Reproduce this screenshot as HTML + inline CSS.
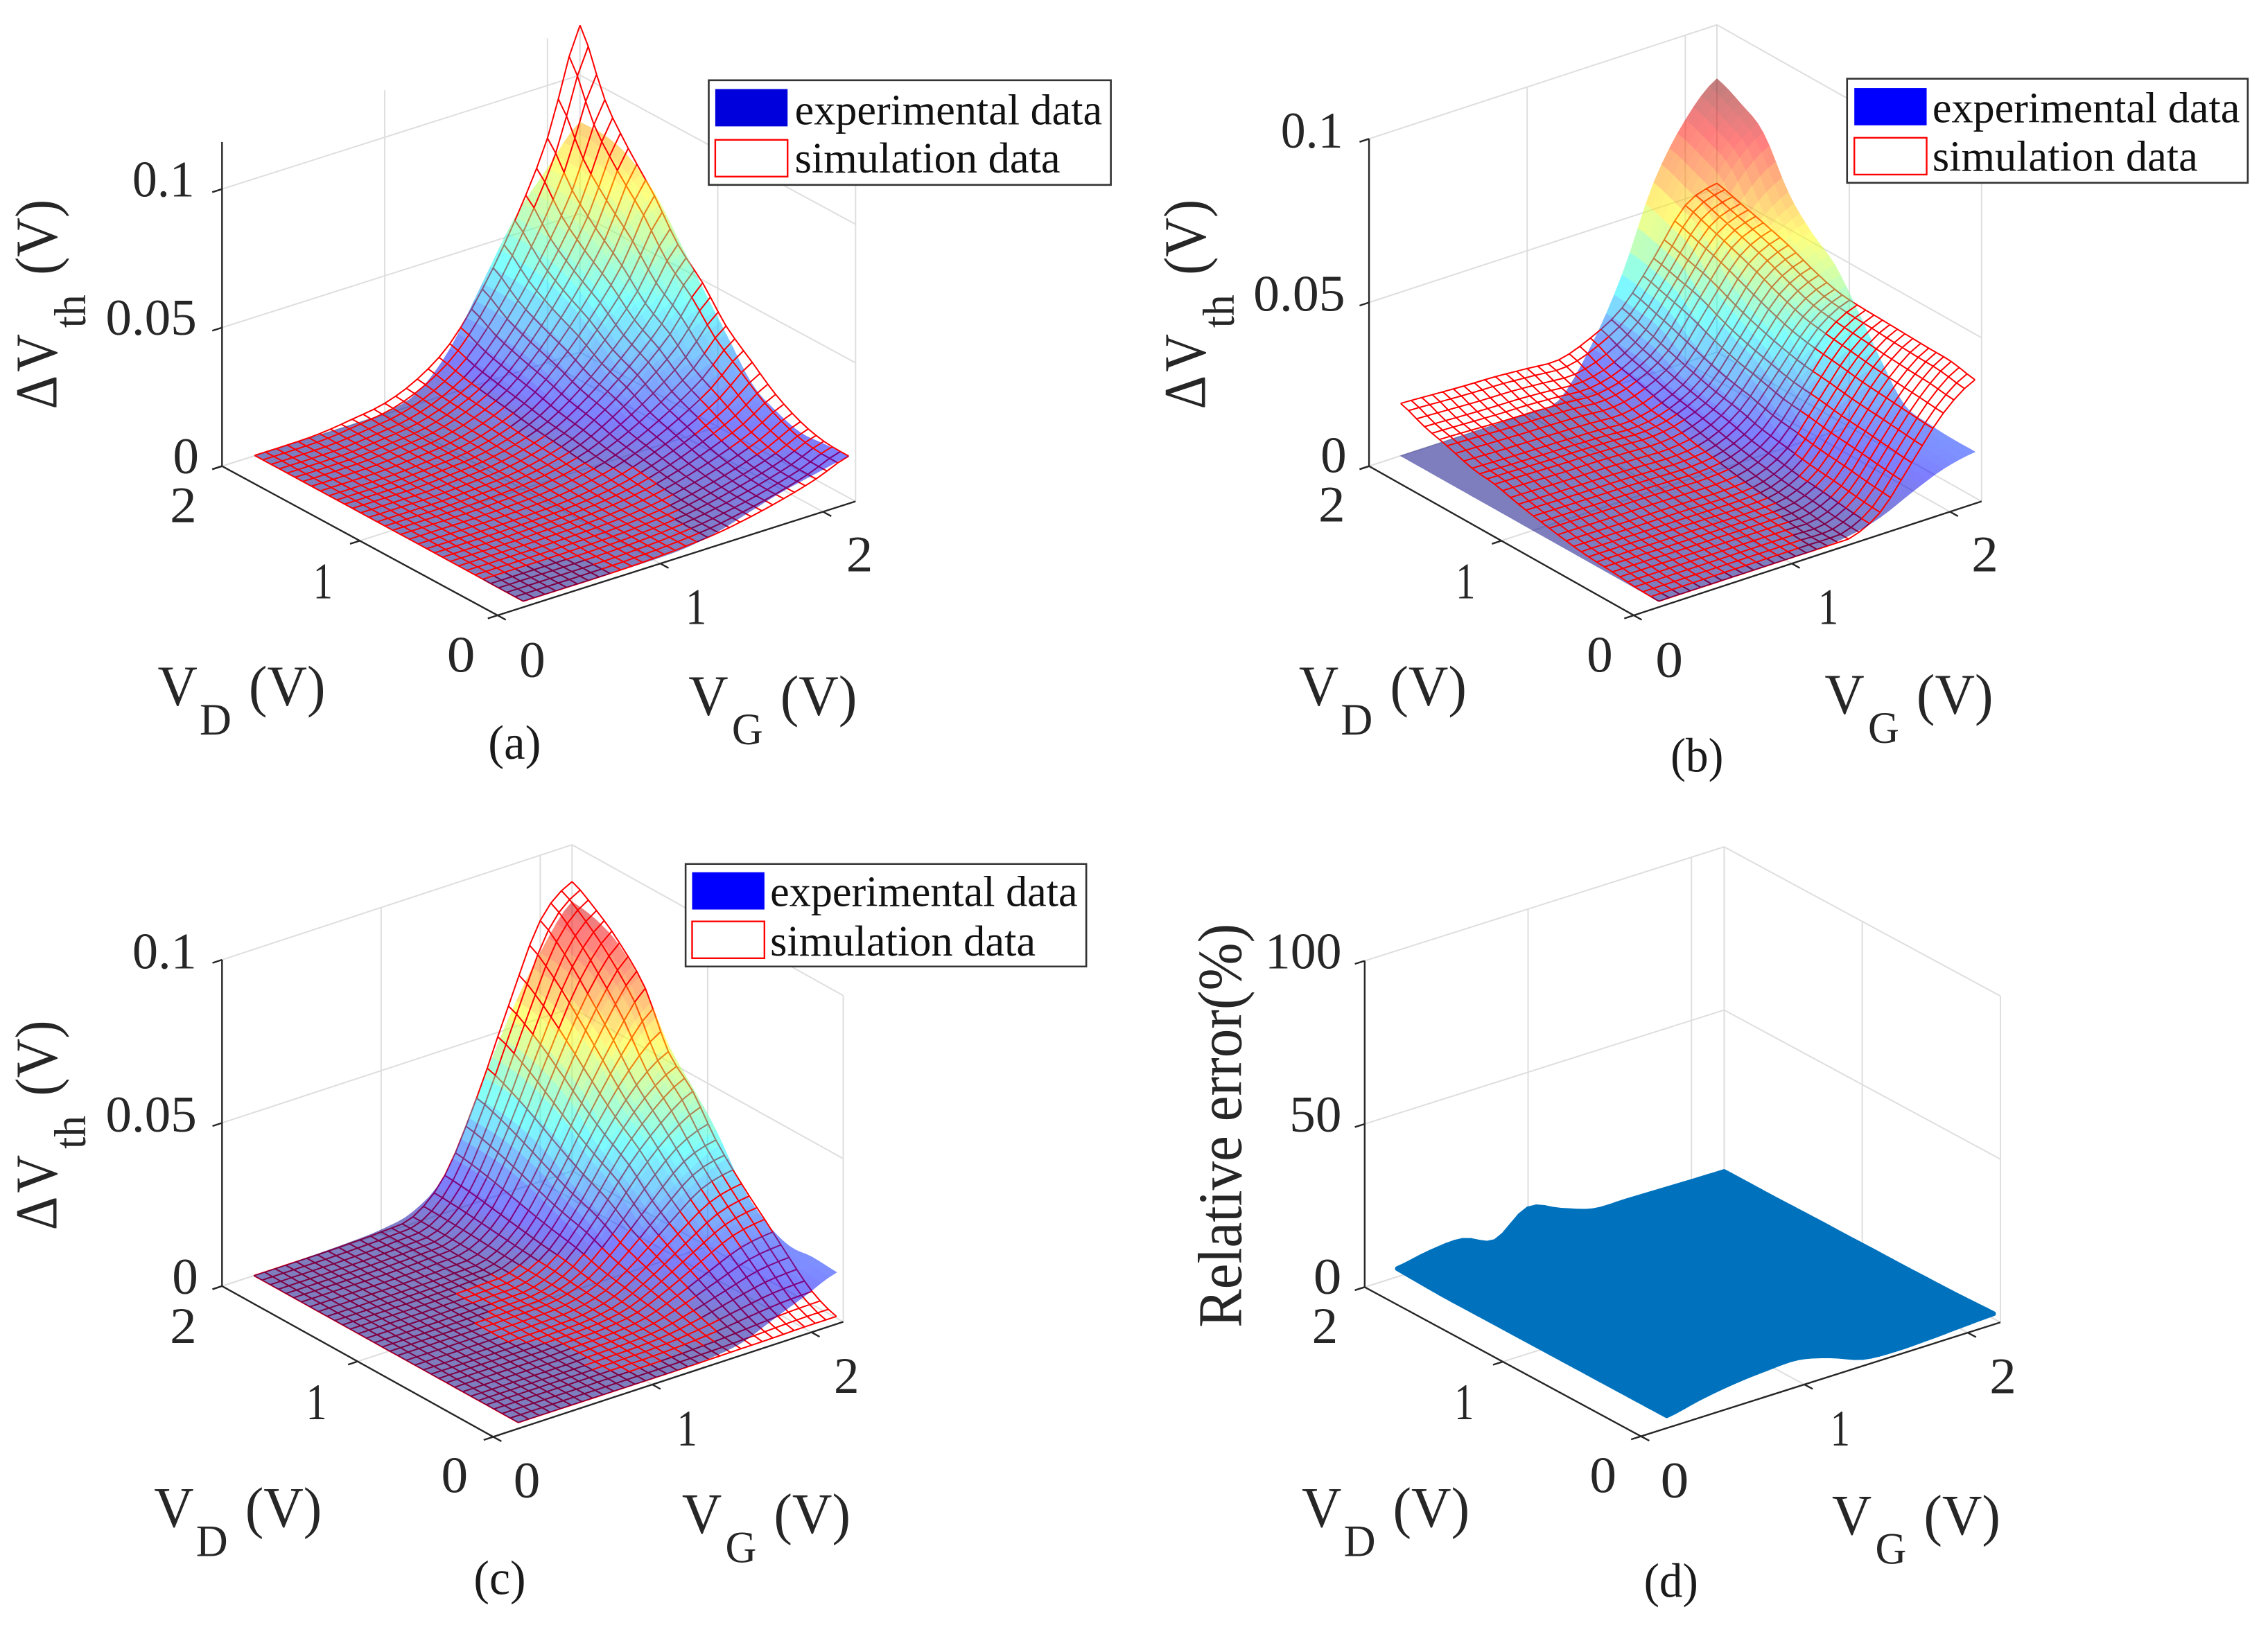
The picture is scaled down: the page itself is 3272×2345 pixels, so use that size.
<!DOCTYPE html>
<html lang="en">
<head>
<meta charset="utf-8">
<title>Threshold voltage shift: experimental vs simulation surfaces</title>
<style>
html,body{margin:0;padding:0;background:#fff;}
svg{display:block;}
text{font-family:"Liberation Serif","Times New Roman",serif;}
path,rect,polygon{vector-effect:non-scaling-stroke;}
</style>
</head>
<body>
<svg id="figure" xmlns="http://www.w3.org/2000/svg" width="3272" height="2345" viewBox="0 0 3272 2345"></svg>
<script>
/* ---------- shared axis data ---------- */
const vgKnots = [0.2,0.4,0.6,0.8,1.0,1.2,1.4,1.6,1.8,2.0,2.2];
const vdKnots = [0.05,0.23,0.4,0.58,0.75,0.94,1.11,1.29,1.46,1.65,1.82,2.0];
const vgTicks = [0,1,2];
const vdTicks = [0,1,2];
const tickLabels = ['0','1','2'];
const zTicksVolt = [0,50,100];
const zLabelsVolt = ['0','0.05','0.1'];
const zTicksError = [0,50,100];
const zLabelsError = ['0','50','100'];
const legendLabels = ['experimental data','simulation data'];

/* ---------- surface values: rows = VD knots, columns = VG knots ---------- */
/* panels a-c in millivolts, panel d in percent */
const panelAExp = [
[0,0,0,0,.1,.7,2.9,6.5,10,12.6,15],
[0,0,0,0,.1,.7,2.8,6.2,9.7,12.2,14.5],
[0,0,0,0,.1,.7,2.7,6,9.4,11.8,14],
[0,0,0,0,.1,.8,3.2,7.3,11.4,14.3,17],
[0,0,0,0,.1,1.1,4.2,9.5,14.7,18.5,22],
[0,0,0,0,.2,1.7,6.7,15,23.5,29.4,35],
[0,0,0,0,.3,2.3,8.9,20.2,31.5,39.5,47],
[0,0,0,0,.4,2.9,11.4,25.8,40.2,50.4,60],
[0,0,0,0,.4,3.5,13.7,31,48.2,60.5,72],
[0,0,0,0,.5,3.8,15.2,34.4,53.6,67.2,80],
[0,0,0,0,.5,4,15.8,35.7,55.6,69.7,83],
[0,0,0,0,.5,4,16,36,56,70,83]];
const panelASim = [
[0,0,0,.1,.5,1.2,2.3,4.4,7.1,10.5,15],
[0,0,0,.1,.5,1.2,2.4,4.5,7.3,10.8,15.5],
[.1,.1,.1,.3,.6,1.4,2.8,5.3,8.5,12.6,18],
[.1,.1,.1,.4,.8,1.8,3.6,6.7,10.9,16,23],
[.15,.15,.2,.5,1,2.3,4.7,8.8,14.2,20.9,30],
[.15,.15,.2,.6,1.3,3,5.9,11.1,18,26.5,38],
[.15,.15,.2,.8,1.7,3.8,7.6,14.4,23.2,34.2,49],
[.15,.15,.2,1,2,4.5,9,17,27.5,40.5,58],
[.15,.15,.3,1.2,2.4,5.5,11,20.8,33.7,49.6,71],
[.15,.15,.4,1.4,2.8,6.5,12.9,24.3,39.3,57.9,83],
[.15,.15,.4,1.6,3.3,7.5,14.9,28.1,45.5,67,96],
[.15,.15,.5,2,4,9,18,34,55,81,118]];
const panelBExp = [
[0,0,0,0,0,.1,1,3.5,8,12,14],
[0,0,0,0,0,.2,2,4.5,9,12.5,14],
[0,0,0,0,0,.2,2.5,5.8,10,12.9,14.5],
[0,0,0,0,0,.2,2.7,6.4,11,14.2,16],
[0,0,0,0,0,.3,4.3,10,17.3,22.3,25],
[0,0,0,0,0,.4,6.3,14.8,25.5,32.9,37],
[0,0,0,0,0,.6,8,18.8,32.4,41.8,47],
[0,0,0,0,0,.6,9,21.2,36.6,47.2,53],
[0,0,0,0,0,.7,10.4,24.4,42.1,54.3,61],
[0,0,0,0,0,.9,12.8,30,51.8,66.8,75],
[0,0,0,0,0,1,13.6,32,55.2,71.2,80],
[0,0,0,0,0,1,14,33,58,74,83.5]];
const panelBSim = [
[0,0,0,0,0,0,0,5,17,29,36],
[.3,.3,.3,.3,.3,.3,.5,5.7,17.8,29.7,37.5],
[1,1,.9,.9,.9,.9,1.5,6.7,18.6,30.3,37.7],
[1.5,1.5,1.4,1.4,1.3,1.3,2.2,7.5,19.3,31,38],
[2.5,2.4,2.3,2.3,2.2,2.1,3.3,8.7,20.4,32,38.3],
[4,3.9,3.8,3.7,3.5,3.4,4.8,10,21.3,33,38.6],
[5.5,5.3,5.2,5.1,4.8,4.6,6.3,12,23,34.3,39.5],
[7.5,7.3,7,6.9,6.6,6.3,8.2,13.5,25,37,42],
[8.5,8.2,8,7.8,7.5,7.1,9.5,15.5,27.5,40,45],
[11,10.7,10.3,10.1,9.7,9.2,11.8,18,31,43,47.5],
[13,12.6,12.2,12,11.4,10.9,13.7,20.5,33,45.5,49.5],
[16,15.5,15,14.7,14,13.5,17,23,35,48,51.6]];
const panelCExp = [
[0,0,0,0,0,.1,.5,2,6,10,14],
[0,0,0,0,0,.1,.5,1.2,5,11.5,14.5],
[0,0,0,0,.2,.4,1.2,3.5,9,11.9,14],
[0,0,0,0,.2,.5,2,6,11,15.5,17.5],
[0,0,0,0,.2,.6,3,8.5,15.5,22,24.5],
[0,0,0,0,.2,.8,4.1,11.8,23.7,31.5,37],
[0,0,.1,.1,.2,.8,5.6,18,29.4,39,46],
[0,0,.1,.1,.3,1,7.7,21.5,35,46.8,55],
[0,0,.1,.4,1,2.9,9.5,26.5,43.5,57.8,68],
[0,0,.2,.5,1.2,3.2,10.8,30,49,65.5,77],
[0,0,.2,.5,1.2,3.4,11.3,31.6,52,69,81],
[0,0,.2,.5,1.2,3.5,11.5,32,53,70,82.5]];
const panelCSim = [
[0,0,0,0,0,0,.1,.2,.3,.5,.5],
[0,0,0,0,.1,.2,.6,1.4,2.6,3.6,4],
[0,0,0,0,.3,.5,1.4,3.8,6.7,9.5,10.5],
[0,0,0,0,.3,.7,2.3,6.5,11.5,16.2,18],
[0,0,0,.1,.3,.8,3.3,9,16,22.5,25],
[0,0,0,.1,.3,1,4.4,12.2,21.8,30.6,34],
[0,0,0,.1,.3,1,5.9,16.2,28.8,38.5,45],
[0,0,0,.1,.4,1.2,6.9,19,34,46,53],
[0,0,0,.1,.4,1.4,8.1,22.3,39.7,55.8,68.5],
[0,0,0,.1,.5,1.7,9.5,26.3,46.7,65.7,78],
[0,0,0,.2,.6,1.9,10.7,29.5,52.5,73.8,84],
[0,0,0,.2,.6,2,11.5,32,57,80,88.7]];
const panelDError = [
[2,4.2,5.8,6.7,7,4.5,.8,.1,.4,1,1.5],
[2,3,3.8,4,4,2.5,1,.5,.5,.8,1.2],
[2,2,2,2,2,1.5,1,.8,.6,.8,1],
[2,1.6,1.5,1.5,1.5,1.2,1,.8,.7,.7,.9],
[2,1.5,1.5,1.4,1.4,1.1,1,.8,.7,.7,.8],
[2,1.5,1.4,1.4,1.4,1,1,.8,.7,.7,.8],
[2,1.5,1.4,1.4,1.4,1,1,.8,.7,.7,.7],
[2,1.5,1.5,1.4,1.5,1.1,1,.8,.7,.6,.7],
[2,1.6,1.6,1.4,1.6,1.2,1,.8,.7,.6,.6],
[2,2,2,1.5,2,1.5,1,.8,.6,.5,.5],
[2.2,3,3,1.3,2.5,2,1,.8,.6,.5,.5],
[2.5,4.3,4.8,1.3,8.1,4.5,1.2,1,.8,.6,.5]];

/* ---------- helpers ---------- */
const NS = 'http://www.w3.org/2000/svg';
const root = document.getElementById('figure');
const GMAX = 2.2, DMAX = 2, SCALE_X = 1636 / 1568, SCALE_Y = 1172 / 1568;

function mk(tag, parent, name) {
  const el = document.createElementNS(NS, tag);
  
  
  parent.appendChild(el);
  return el;
}
function addText(parent, str, x0, x1, base, size, name, fill) {
  const t = mk('text', parent, name);
  t.setAttribute('x', x0);
  t.setAttribute('y', base);
  t.setAttribute('font-size', size);
  t.setAttribute('fill', fill || '#262626');
  t.setAttribute('textLength', x1 - x0);
  t.setAttribute('lengthAdjust', 'spacingAndGlyphs');
  t.textContent = str;
  return t;
}
function addUpText(parent, str, yBottom, yTop, xBase, size, name) {
  const t = mk('text', parent, name);
  t.setAttribute('transform', 'translate(' + xBase + ',' + yBottom + ') rotate(-90)');
  t.setAttribute('font-size', size);
  t.setAttribute('fill', '#262626');
  t.setAttribute('textLength', yBottom - yTop);
  t.setAttribute('lengthAdjust', 'spacingAndGlyphs');
  t.textContent = str;
  return t;
}
function clamp01(x) { return Math.max(0, Math.min(1, x)); }
function jet(t) {
  const r = clamp01(1.5 - Math.abs(4 * t - 3));
  const g = clamp01(1.5 - Math.abs(4 * t - 2));
  const b = clamp01(1.5 - Math.abs(4 * t - 1));
  return 'rgb(' + Math.round(r * 255) + ',' + Math.round(g * 255) + ',' + Math.round(b * 255) + ')';
}
function cr(p0, p1, p2, p3, t) {
  return 0.5 * (2 * p1 + (p2 - p0) * t + (2 * p0 - 5 * p1 + 4 * p2 - p3) * t * t + (3 * p1 - p0 - 3 * p2 + p3) * t * t * t);
}
/* smooth surface rendering between the read values (u = column index, v = row index) */
function surfaceAt(Z, u, v) {
  const nc = Z[0].length, nr = Z.length;
  const iu = Math.min(Math.floor(u), nc - 2), iv = Math.min(Math.floor(v), nr - 2);
  const tu = u - iu, tv = v - iv, rows = [];
  for (let k = -1; k <= 2; k++) {
    const r = Z[Math.max(0, Math.min(nr - 1, iv + k))];
    const c = [-1, 0, 1, 2].map(function (m) { return r[Math.max(0, Math.min(nc - 1, iu + m))]; });
    rows.push(cr(c[0], c[1], c[2], c[3], tu));
  }
  return Math.max(0, cr(rows[0], rows[1], rows[2], rows[3], tv));
}
function knotValue(K, idx) {
  const i = Math.min(Math.floor(idx), K.length - 2);
  return K[i] + (K[i + 1] - K[i]) * (idx - i);
}
function makeProjector(p) {
  return function (vg, vd, z) {
    return [
      p.O[0] + vg / GMAX * (p.R[0] - p.O[0]) + vd / DMAX * (p.L[0] - p.O[0]),
      p.O[1] + vg / GMAX * (p.R[1] - p.O[1]) + vd / DMAX * (p.L[1] - p.O[1]) - z * p.zPx
    ];
  };
}
function fmt(pt) { return pt[0].toFixed(1) + ' ' + pt[1].toFixed(1); }
function segPath(parent, pts, name, stroke, width) {
  const el = mk('path', parent, name);
  el.setAttribute('d', 'M' + pts.map(fmt).join('L'));
  el.setAttribute('fill', 'none');
  el.setAttribute('stroke', stroke);
  el.setAttribute('stroke-width', width);
  return el;
}

/* ---------- drawing ---------- */
function drawGrid(g, p, proj) {
  const GC = '#dedede', W = 2;
  p.zTicks.forEach(function (z) {
    segPath(g, [proj(0, DMAX, z), proj(GMAX, DMAX, z), proj(GMAX, 0, z)], 'z-gridline', GC, W);
  });
  vgTicks.forEach(function (v) {
    if (v === 0) return;
    segPath(g, [proj(v, DMAX, 0), proj(v, DMAX, p.zTop)], 'vg-wall-gridline', GC, W);
    segPath(g, [proj(v, 0, 0), proj(v, DMAX, 0)], 'vg-floor-gridline', GC, W);
  });
  vdTicks.forEach(function (v) {
    if (v === 0) return;
    segPath(g, [proj(GMAX, v, 0), proj(GMAX, v, p.zTop)], 'vd-wall-gridline', GC, W);
    segPath(g, [proj(0, v, 0), proj(GMAX, v, 0)], 'vd-floor-gridline', GC, W);
  });
  segPath(g, [proj(GMAX, 0, 0), proj(GMAX, 0, p.zTop)], 'right-corner-gridline', GC, W);
}
function drawAxes(g, p, proj) {
  const C = '#262626', W = 2.4;
  segPath(g, [proj(0, DMAX, 0), proj(0, DMAX, p.zTop)], 'z-axis-line', C, W);
  segPath(g, [proj(0, DMAX, 0), proj(0, 0, 0)], 'vd-axis-line', C, W);
  segPath(g, [proj(0, 0, 0), proj(GMAX, 0, 0)], 'vg-axis-line', C, W);
  p.zTicks.forEach(function (z) {
    segPath(g, [proj(0, DMAX, z), proj(-0.06, DMAX, z)], 'z-axis-tick', C, W);
  });
  vdTicks.forEach(function (v) {
    segPath(g, [proj(0, v, 0), proj(-0.06, v, 0)], 'vd-axis-tick', C, W);
  });
  vgTicks.forEach(function (v) {
    segPath(g, [proj(v, 0, 0), proj(v, -0.06, 0)], 'vg-axis-tick', C, W);
  });
}
function drawFilledSurface(g, p, proj, Z, colorFn, strokeW) {
  const sub = 4;
  const nu = (vgKnots.length - 1) * sub, nv = (vdKnots.length - 1) * sub;
  function pt(iu, iv) {
    const u = iu / sub, v = iv / sub;
    const z = surfaceAt(Z, u, v);
    return { xy: proj(knotValue(vgKnots, u), knotValue(vdKnots, v), z), z: z };
  }
  for (let iv = nv - 1; iv >= 0; iv--) {
    for (let iu = nu - 1; iu >= 0; iu--) {
      const a = pt(iu, iv), b = pt(iu + 1, iv), c = pt(iu + 1, iv + 1), d = pt(iu, iv + 1);
      const col = colorFn((a.z + b.z + c.z + d.z) / 4);
      const el = document.createElementNS(NS, 'polygon');
      
      
      el.setAttribute('points', [a, b, c, d].map(function (q) { return q.xy[0].toFixed(1) + ',' + q.xy[1].toFixed(1); }).join(' '));
      el.setAttribute('fill', col);
      el.setAttribute('stroke', col);
      el.setAttribute('stroke-width', strokeW);
      el.setAttribute('stroke-linejoin', 'round');
      g.appendChild(el);
    }
  }
}
function drawMesh(under, over, p, proj, Sim, Exp) {
  const sub = 3;
  const nu = (vgKnots.length - 1) * sub, nv = (vdKnots.length - 1) * sub;
  let dUnder = '', dOver = '';
  function node(iu, iv) {
    const u = iu / sub, v = iv / sub;
    return proj(knotValue(vgKnots, u), knotValue(vdKnots, v), surfaceAt(Sim, u, v));
  }
  function seg(iu0, iv0, iu1, iv1) {
    const um = (iu0 + iu1) / 2 / sub, vm = (iv0 + iv1) / 2 / sub;
    const s = 'M' + fmt(node(iu0, iv0)) + 'L' + fmt(node(iu1, iv1));
    if (surfaceAt(Sim, um, vm) <= surfaceAt(Exp, um, vm) + 0.05) dUnder += s; else dOver += s;
  }
  for (let iv = 0; iv <= nv; iv++) for (let iu = 0; iu < nu; iu++) seg(iu, iv, iu + 1, iv);
  for (let iu = 0; iu <= nu; iu++) for (let iv = 0; iv < nv; iv++) seg(iu, iv, iu, iv + 1);
  [[under, dUnder, 'simulation-mesh-below-surface'], [over, dOver, 'simulation-mesh-above-surface']].forEach(function (it) {
    const el = mk('path', it[0], it[2]);
    el.setAttribute('d', it[1]);
    el.setAttribute('fill', 'none');
    el.setAttribute('stroke', '#ff0000');
    el.setAttribute('stroke-width', 2);
  });
}
function drawLegend(g, box) {
  const lg = mk('g', g, 'legend');
  const frame = mk('rect', lg, 'legend-box');
  frame.setAttribute('x', box.x0);
  frame.setAttribute('y', box.y0);
  frame.setAttribute('width', box.x1 - box.x0);
  frame.setAttribute('height', box.y1 - box.y0);
  frame.setAttribute('fill', '#fff');
  frame.setAttribute('stroke', '#333333');
  frame.setAttribute('stroke-width', 2.6);
  const s1 = mk('rect', lg, 'legend-swatch-experimental');
  s1.setAttribute('x', box.sx);
  s1.setAttribute('y', box.s1);
  s1.setAttribute('width', 100);
  s1.setAttribute('height', 72);
  s1.setAttribute('fill', box.color);
  const s2 = mk('rect', lg, 'legend-swatch-simulation');
  s2.setAttribute('x', box.sx);
  s2.setAttribute('y', box.s2);
  s2.setAttribute('width', 100);
  s2.setAttribute('height', 71);
  s2.setAttribute('fill', '#fff');
  s2.setAttribute('stroke', '#ff0000');
  s2.setAttribute('stroke-width', 2.4);
  addText(lg, legendLabels[0], box.tx, box.tx + 425, box.b1, 84, 'legend-label-experimental', '#111111');
  addText(lg, legendLabels[1], box.tx, box.tx + 367, box.b2, 84, 'legend-label-simulation', '#111111');
}
function drawLabels(g, p) {
  p.zBoxes.forEach(function (b, i) {
    addText(g, p.zLabels[i], b[0] - 2, b[1] + 2, b[2], 99, 'z-tick-label');
  });
  p.vdBoxes.forEach(function (b, i) {
    addText(g, tickLabels[i], b[0] - 2, b[1] + 2, b[2], 99, 'vd-tick-label');
  });
  p.vgBoxes.forEach(function (b, i) {
    addText(g, tickLabels[i], b[0] - 2, b[1] + 2, b[2], 99, 'vg-tick-label');
  });
  const vd = p.vdTitle, vg = p.vgTitle;
  addText(g, 'V', vd[0], vd[0] + 55, vd[1], 111, 'vd-axis-title-v');
  addText(g, 'D', vd[0] + 58, vd[0] + 102, vd[1] + 56, 87, 'vd-axis-title-subscript');
  addText(g, '(V)', vd[0] + 126, vd[0] + 232, vd[1], 111, 'vd-axis-title-unit');
  addText(g, 'V', vg[0], vg[0] + 55, vg[1], 111, 'vg-axis-title-v');
  addText(g, 'G', vg[0] + 60, vg[0] + 103, vg[1] + 56, 87, 'vg-axis-title-subscript');
  addText(g, '(V)', vg[0] + 127, vg[0] + 233, vg[1], 111, 'vg-axis-title-unit');
  if (p.yTitle) {
    const y = p.yTitle;
    addUpText(g, '\u0394', 790 + y.dy, 725 + y.dy, y.base, 82, 'z-axis-title-delta');
    addUpText(g, 'V', 718 + y.dy, 645 + y.dy, y.base, 82, 'z-axis-title-v');
    addUpText(g, 'th', 633 + y.dy, 569 + y.dy, y.base + 40, 62, 'z-axis-title-subscript');
    addUpText(g, '(V)', 531 + y.dy, 385 + y.dy, y.base, 82, 'z-axis-title-unit');
  } else {
    addUpText(g, 'Relative error(%)', 995, 215, 148, 86, 'z-axis-title');
  }
  addText(g, p.caption[0], p.caption[1], p.caption[2], p.caption[3], 94, 'panel-caption', '#1a1a1a');
}

const panels = [
  { key: 'a', ox: 0, oy: 0, O: [688, 1188], L: [307, 900], R: [1183, 968], zPx: 5.35, zTop: 117, clim: 116,
    zTicks: zTicksVolt, zLabels: zLabelsVolt, exp: panelAExp, sim: panelASim,
    zBoxes: [[241, 273, 914], [148, 270, 646], [185, 267, 379]],
    vdBoxes: [[620, 655, 1297], [435, 458, 1155], [237, 270, 1008]],
    vgBoxes: [[720, 752, 1307], [950, 975, 1205], [1172, 1205, 1103]],
    vdTitle: [218, 1362], vgTitle: [952, 1381], yTitle: { base: 78, dy: 0 }, caption: ['(a)', 675, 748, 1465],
    legend: { x0: 980, y0: 155, x1: 1536, y1: 357, sx: 989, s1: 172, s2: 270, tx: 1099, b1: 240, b2: 333, color: '#0000dc' } },
  { key: 'b', ox: 1636, oy: 0, O: [691, 1188], L: [325, 900], R: [1172, 968], zPx: 6.32, zTop: 100, clim: 83.5,
    zTicks: zTicksVolt, zLabels: zLabelsVolt, exp: panelBExp, sim: panelBSim,
    zBoxes: [[260, 292, 912], [167, 290, 600], [205, 287, 285]],
    vdBoxes: [[628, 660, 1297], [447, 470, 1155], [257, 290, 1007]],
    vgBoxes: [[723, 757, 1307], [948, 972, 1205], [1160, 1193, 1103]],
    vdTitle: [228, 1362], vgTitle: [955, 1378], yTitle: { base: 98, dy: 0 }, caption: ['(b)', 742, 815, 1490],
    legend: { x0: 986, y0: 152, x1: 1540, y1: 353, sx: 996, s1: 170, s2: 266, tx: 1104, b1: 236, b2: 330, color: '#0000ff' } },
  { key: 'c', ox: 0, oy: 1172, O: [682, 1206], L: [307, 915], R: [1166, 984], zPx: 6.3, zTop: 100, clim: 88.7,
    zTicks: zTicksVolt, zLabels: zLabelsVolt, exp: panelCExp, sim: panelCSim,
    zBoxes: [[240, 272, 930], [148, 270, 617], [185, 270, 302]],
    vdBoxes: [[612, 645, 1313], [425, 450, 1172], [237, 270, 1025]],
    vgBoxes: [[712, 745, 1323], [938, 962, 1223], [1155, 1186, 1121]],
    vdTitle: [213, 1380], vgTitle: [943, 1392], yTitle: { base: 78, dy: 17 }, caption: ['(c)', 655, 727, 1510],
    legend: { x0: 948, y0: 100, x1: 1502, y1: 298, sx: 957, s1: 116, s2: 211, tx: 1065, b1: 181, b2: 277, color: '#0000ff' } },
  { key: 'd', ox: 1636, oy: 1172, O: [701, 1205], L: [319, 917], R: [1198, 985], zPx: 6.3, zTop: 100, clim: 100,
    zTicks: zTicksError, zLabels: zLabelsError, err: panelDError,
    zBoxes: [[250, 285, 930], [217, 285, 617], [183, 285, 302]],
    vdBoxes: [[632, 665, 1313], [445, 468, 1172], [248, 280, 1025]],
    vgBoxes: [[730, 765, 1323], [965, 988, 1223], [1185, 1218, 1122]],
    vdTitle: [232, 1380], vgTitle: [965, 1395], yTitle: null, caption: ['(d)', 705, 780, 1515],
    legend: null }
];

panels.forEach(function (p) {
  const g = mk('g', root, 'panel-' + p.key);
  g.setAttribute('transform', 'translate(' + p.ox + ',' + p.oy + ') scale(' + SCALE_X + ',' + SCALE_Y + ')');
  const proj = makeProjector(p);
  drawGrid(mk('g', g, 'gridlines'), p, proj);
  if (p.err) {
    const s = mk('g', g, 'relative-error-surface');
    drawFilledSurface(s, p, proj, p.err, function () { return '#0072BD'; }, 7);
  } else {
    const under = mk('g', g, 'simulation-mesh-under');
    const s = mk('g', g, 'experimental-surface');
    s.setAttribute('opacity', '0.5');
    drawFilledSurface(s, p, proj, p.exp, function (z) { return jet(z / p.clim); }, 1);
    const over = mk('g', g, 'simulation-mesh-over');
    drawMesh(under, over, p, proj, p.sim, p.exp);
  }
  drawAxes(mk('g', g, 'axes'), p, proj);
  drawLabels(mk('g', g, 'labels'), p);
  if (p.legend) drawLegend(g, p.legend);
});
</script>
</body>
</html>
